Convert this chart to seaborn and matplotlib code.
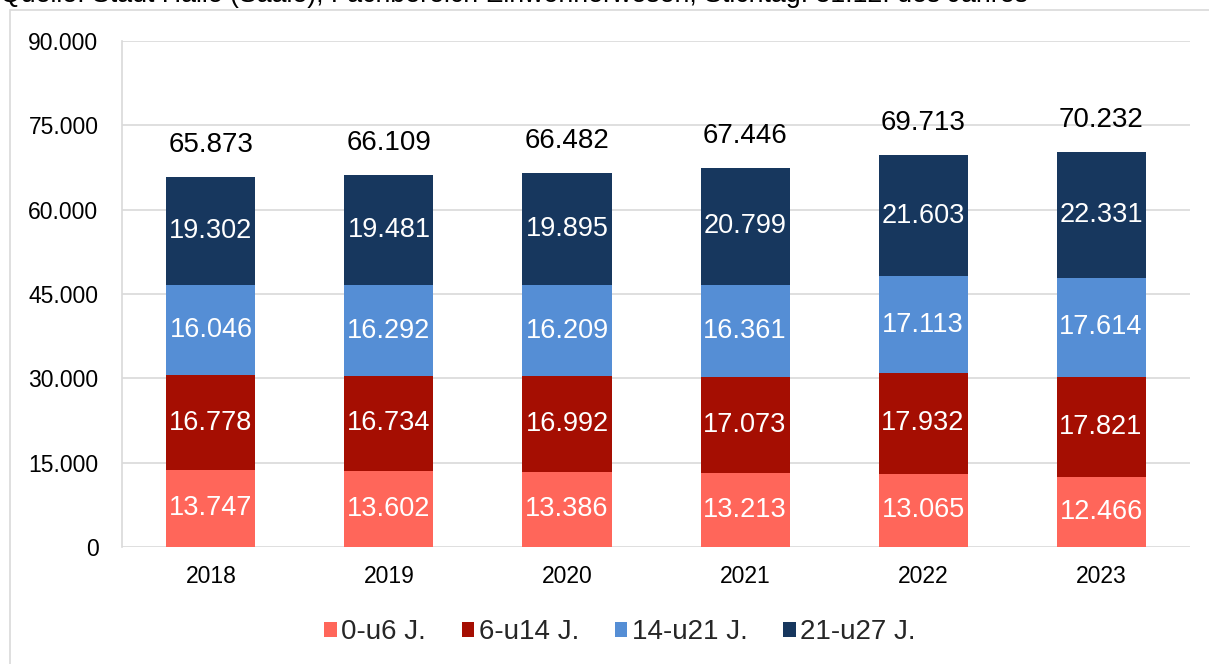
import pandas as pd
import numpy as np
import matplotlib.pyplot as plt
import seaborn as sns
from matplotlib.patches import Rectangle

# data
YEARS = ["2018", "2019", "2020", "2021", "2022", "2023"]
GROUPS = ["0-u6 J.", "6-u14 J.", "14-u21 J.", "21-u27 J."]
AGE_0_6 = [13747, 13602, 13386, 13213, 13065, 12466]
AGE_6_14 = [16778, 16734, 16992, 17073, 17932, 17821]
AGE_14_21 = [16046, 16292, 16209, 16361, 17113, 17614]
AGE_21_27 = [19302, 19481, 19895, 20799, 21603, 22331]
COLORS = ["#FF665A", "#A50E02", "#558ED5", "#17375E"]
SOURCE = "Quelle: Stadt Halle (Saale), Fachbereich Einwohnerwesen, Stichtag: 31.12. des Jahres"


def de(v):
    return f"{v:,}".replace(",", ".")


def main():
    values = [AGE_0_6, AGE_6_14, AGE_14_21, AGE_21_27]
    df = pd.DataFrame({"year": YEARS})
    cum = np.zeros(len(YEARS))
    bottoms = []
    for g, v in zip(GROUPS, values):
        bottoms.append(cum.copy())
        cum = cum + np.array(v)
        df[g] = cum

    sns.set_style("white")
    plt.rcParams["font.family"] = ["Liberation Sans", "DejaVu Sans"]

    fig = plt.figure(figsize=(12.09, 6.64), dpi=100)
    ax = fig.add_axes([0.1009, 0.1762, 0.8834, 0.7621])

    # draw cumulative totals from the top layer down so each segment shows
    for g, c in reversed(list(zip(GROUPS, COLORS))):
        sns.barplot(data=df, x="year", y=g, color=c, width=0.5, ax=ax,
                    saturation=1, label=g, zorder=3, linewidth=0)

    # segment labels + totals
    for i in range(len(YEARS)):
        for j, v in enumerate(values):
            ax.text(i, bottoms[j][i] + v[i] / 2, de(v[i]), ha="center", va="center",
                    color="white", fontsize=19.5, zorder=4)
        ax.annotate(de(int(cum[i])), (i, cum[i]), xytext=(0, 23), textcoords="offset points",
                    ha="center", va="center", fontsize=20, color="black")

    ax.set_xlim(-0.5, 5.5)
    ax.set_ylim(0, 90000)
    ax.set_yticks(range(0, 90001, 15000))
    ax.set_yticklabels([de(t) for t in range(0, 90001, 15000)])
    ax.yaxis.grid(True, color="#d9d9d9", linewidth=1.2, zorder=0)
    ax.set_axisbelow(True)
    ax.set_xlabel("")
    ax.set_ylabel("")
    ax.tick_params(axis="both", length=0, labelsize=16.5, colors="black")
    ax.tick_params(axis="x", pad=13)
    ax.tick_params(axis="y", pad=17)
    for s in ["top", "right", "bottom"]:
        ax.spines[s].set_visible(False)
    ax.spines["left"].set_color("#d9d9d9")
    ax.spines["left"].set_linewidth(1.2)

    handles, labels = ax.get_legend_handles_labels()
    order = [labels.index(g) for g in GROUPS]
    ax.legend([handles[k] for k in order], GROUPS, loc="center",
              bbox_to_anchor=((620 / 1209 - 0.1009) / 0.8834, -0.168),
              ncol=4, frameon=False, fontsize=20, handlelength=0.45, handleheight=0.45,
              handletextpad=0.15, columnspacing=1.3)

    # outer chart frame (partly cut off in the reference)
    fig.add_artist(Rectangle((10 / 1209, -0.2), 1.2, 1.2 - 10 / 664,
                             transform=fig.transFigure, fill=False,
                             edgecolor="#d9d9d9", linewidth=1.2))
    # source line, cut off at the top edge as in the reference
    fig.text(0.0, 1 - 2 / 664, SOURCE, fontsize=19.3, va="baseline", ha="left", color="black")

    fig.savefig("out.png", dpi=100)
    plt.close(fig)


if __name__ == "__main__":
    main()
